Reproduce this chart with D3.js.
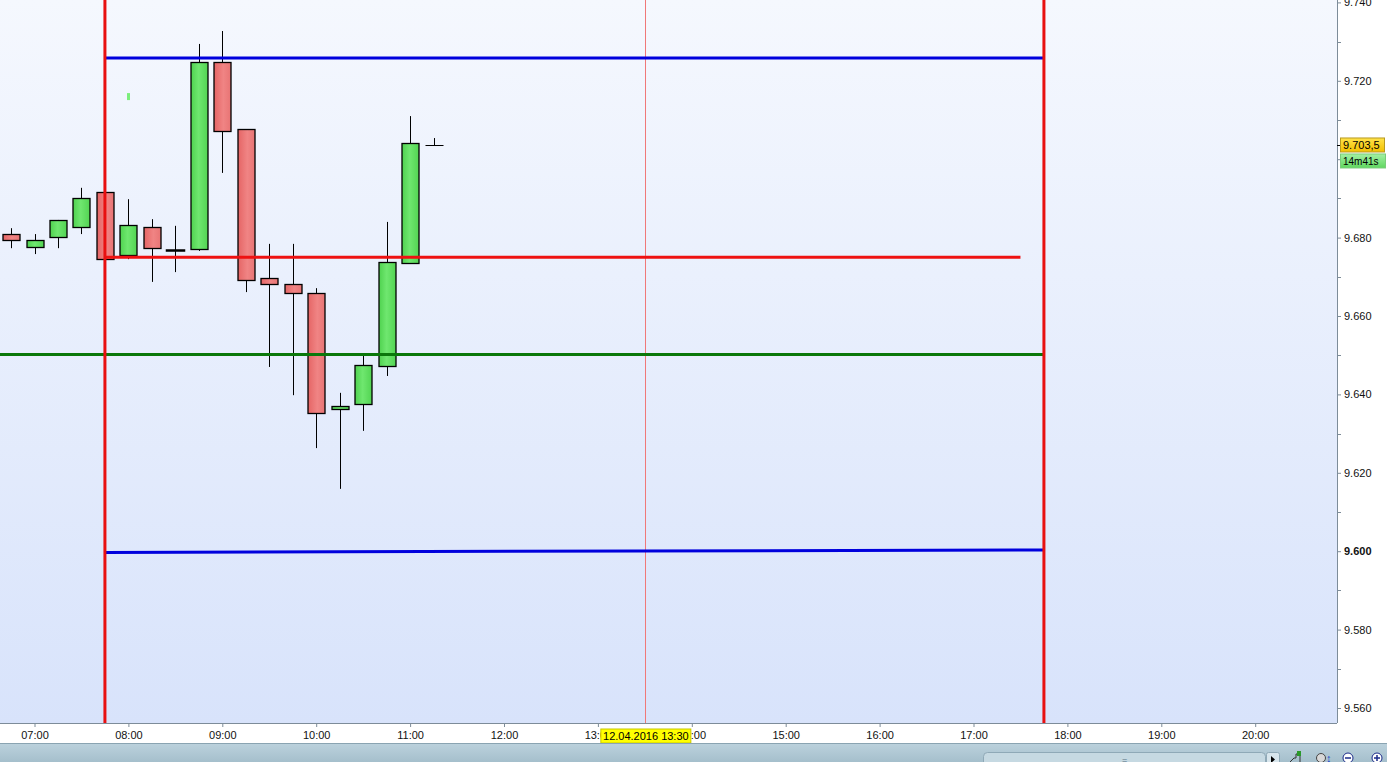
<!DOCTYPE html>
<html>
<head>
<meta charset="utf-8">
<title>Candles 12.04.2016</title>
<script src="https://d3js.org/d3.v7.min.js"></script>
<style>
  body { margin: 0; background: #fff; overflow: hidden; }
  svg { display: block; font-family: "Liberation Sans", Arial, sans-serif; }
  .axis text { font-size: 11px; fill: #111; }
  .axis path, .axis line { stroke: #7d8c99; }
</style>
</head>
<body>
<svg width="1387" height="762"></svg>
<script>
// 15 minute candles, 12.04.2016
var times  = ["06:45","07:00","07:15","07:30","07:45","08:00","08:15","08:30","08:45","09:00","09:15","09:30","09:45","10:00","10:15","10:30","10:45","11:00","11:15"];
var opens  = [9.6809,9.6776,9.6802,9.6827,9.6916,9.6756,9.6827,9.6768,9.6771,9.7248,9.7077,9.6697,9.6682,9.6659,9.6363,9.6376,9.6472,9.6735,9.7035];
var highs  = [9.6824,9.6809,9.6845,9.6927,9.6916,9.6898,9.6847,9.6830,9.7294,9.7327,9.7077,9.6784,9.6784,9.6671,9.6404,9.6501,9.6840,9.7110,9.7054];
var lows   = [9.6773,9.6758,9.6773,9.6809,9.6745,9.6745,9.6687,9.6712,9.6766,9.6965,9.6661,9.6470,9.6398,9.6263,9.6159,9.6307,9.6447,9.6735,9.7035];
var closes = [9.6794,9.6794,9.6845,9.6901,9.6745,9.6832,9.6773,9.6768,9.7248,9.7072,9.6692,9.6682,9.6659,9.6353,9.6370,9.6475,9.6738,9.7041,9.7035];

// drawn levels
var levelNames  = ["upper","pivot","support","lower"];
var levelStart  = ["07:45","07:45","06:00","07:45"];
var levelEnd    = ["17:45","17:30","17:45","17:45"];
var levelFrom   = [9.7258,9.6750,9.6502,9.5997];
var levelTo     = [9.7258,9.6750,9.6502,9.6003];
var sessionTimes = ["07:45","17:45"];
var crossTime = "13:30";
var crossLabel = "12.04.2016 13:30";
var markTime = "08:00", markValue = 9.7161;
var lastPrice = 9.7035, lastPriceLabel = "9.703,5", timerLabel = "14m41s";

var yMajor = [9.560,9.580,9.600,9.620,9.640,9.660,9.680,9.700,9.720,9.740];
var yMinor = [9.570,9.590,9.610,9.630,9.650,9.670,9.690,9.710,9.730];

var W = 1387, H = 762;
var plotW = 1337, plotH = 723;
var svg = d3.select("svg");
var parse = d3.timeParse("%d.%m.%Y %H:%M");
function T(s) { return parse("12.04.2016 " + s); }

var x = d3.scaleTime().domain([T("06:00"), T("21:00")]).range([-59.4, 1349.1]);
var y = d3.scaleLinear().domain([9.560, 9.740]).range([708, 2.4]);

var defs = svg.append("defs");
var bg = defs.append("linearGradient").attr("id","bg").attr("x1",0).attr("y1",0).attr("x2",0).attr("y2",1);
bg.append("stop").attr("offset","0%").attr("stop-color","#f5f8fe");
bg.append("stop").attr("offset","100%").attr("stop-color","#d8e3fb");
var gUp = defs.append("linearGradient").attr("id","up");
gUp.append("stop").attr("offset","0%").attr("stop-color","#4fd24f");
gUp.append("stop").attr("offset","45%").attr("stop-color","#6fe76f");
gUp.append("stop").attr("offset","100%").attr("stop-color","#52d452");
var gDn = defs.append("linearGradient").attr("id","dn");
gDn.append("stop").attr("offset","0%").attr("stop-color","#e56565");
gDn.append("stop").attr("offset","55%").attr("stop-color","#f08484");
gDn.append("stop").attr("offset","100%").attr("stop-color","#e87474");
var gBar = defs.append("linearGradient").attr("id","bar").attr("x1",0).attr("y1",0).attr("x2",0).attr("y2",1);
gBar.append("stop").attr("offset","0%").attr("stop-color","#bcd2dd");
gBar.append("stop").attr("offset","100%").attr("stop-color","#a5bfcc");
var gYel = defs.append("linearGradient").attr("id","yel").attr("x1",0).attr("y1",0).attr("x2",0).attr("y2",1);
gYel.append("stop").attr("offset","0%").attr("stop-color","#ffe34a");
gYel.append("stop").attr("offset","100%").attr("stop-color","#f3c000");
var gGrn = defs.append("linearGradient").attr("id","grn").attr("x1",0).attr("y1",0).attr("x2",0).attr("y2",1);
gGrn.append("stop").attr("offset","0%").attr("stop-color","#a4f0a4");
gGrn.append("stop").attr("offset","100%").attr("stop-color","#5fd75f");
defs.append("clipPath").attr("id","clip").append("rect").attr("width",plotW).attr("height",plotH);

svg.append("rect").attr("width",W).attr("height",H).attr("fill","#fff");
svg.append("rect").attr("width",plotW).attr("height",plotH).attr("fill","url(#bg)");

var plot = svg.append("g").attr("clip-path","url(#clip)");

// crosshair
var crossX = Math.round(x(T(crossTime)));
plot.append("rect")
  .attr("x", crossX).attr("y", 0).attr("width", 1).attr("height", plotH)
  .attr("fill", "#f07878");

// candles
var candles = times.map(function(t, i) {
  return {t: T(t), o: opens[i], h: highs[i], l: lows[i], c: closes[i]};
});
var bodyW = 17;
var cg = plot.selectAll("g.candle").data(candles).enter().append("g").attr("class","candle");
cg.append("line")
  .attr("x1", function(d) { return Math.round(x(d.t)) + 0.5; })
  .attr("x2", function(d) { return Math.round(x(d.t)) + 0.5; })
  .attr("y1", function(d) { return y(d.h); })
  .attr("y2", function(d) { return y(d.l); })
  .attr("stroke", "#000").attr("stroke-width", 1);
cg.append("rect")
  .attr("x", function(d) { return Math.round(x(d.t)) - bodyW / 2 + 0.5; })
  .attr("y", function(d) { return Math.round(y(Math.max(d.o, d.c))) + 0.5; })
  .attr("width", bodyW)
  .attr("height", function(d) { return Math.max(0, Math.round(Math.abs(y(d.o) - y(d.c)))); })
  .attr("fill", function(d) { return d.c > d.o ? "url(#up)" : "url(#dn)"; })
  .attr("stroke", "#000").attr("stroke-width", function(d) { return d.o === d.c ? 1 : 1.3; });
// doji stroke
cg.filter(function(d) { return d.o === d.c; }).select("rect")
  .attr("height", 0.01).attr("stroke-width", function(d, i) { return d.t.getHours() === 8 ? 2.5 : 1; });

// small marker
plot.append("rect")
  .attr("x", Math.round(x(T(markTime))) - 1).attr("y", y(markValue) - 3)
  .attr("width", 3).attr("height", 7).attr("fill", "#7cee7c");

// levels
var levelColor = {upper: "#0000dd", pivot: "#ee1111", support: "#0a780a", lower: "#0000dd"};
plot.selectAll("line.level").data(levelNames).enter().append("line")
  .attr("class", "level")
  .attr("x1", function(d, i) { return x(T(levelStart[i])); })
  .attr("x2", function(d, i) { return x(T(levelEnd[i])); })
  .attr("y1", function(d, i) { return y(levelFrom[i]); })
  .attr("y2", function(d, i) { return y(levelTo[i]); })
  .attr("stroke", function(d) { return levelColor[d]; })
  .attr("stroke-width", 3);

plot.selectAll("line.session").data(sessionTimes).enter().append("line")
  .attr("class", "session")
  .attr("x1", function(d) { return x(T(d)); })
  .attr("x2", function(d) { return x(T(d)); })
  .attr("y1", 0).attr("y2", plotH)
  .attr("stroke", "#e81010").attr("stroke-width", 3);

// right axis
var yAxis = svg.append("g").attr("class","axis").attr("transform","translate(" + plotW + ",0)")
  .call(d3.axisRight(y).tickValues(yMajor).tickSize(4).tickPadding(3).tickFormat(d3.format(".3f")));
yAxis.select(".domain").attr("d", "M0.5,0V" + plotH);
yAxis.selectAll(".tick text").style("font-weight", function(d) { return d === 9.600 ? "bold" : "normal"; });
yAxis.selectAll("line.minor").data(yMinor).enter().append("line").attr("class","minor")
  .attr("x1", 0).attr("x2", 4)
  .attr("y1", function(d) { return Math.round(y(d)) + 0.5; })
  .attr("y2", function(d) { return Math.round(y(d)) + 0.5; })
  .attr("stroke", "#7d8c99");

// bottom axis
var xAxis = svg.append("g").attr("class","axis").attr("transform","translate(0," + plotH + ")")
  .call(d3.axisBottom(x).ticks(d3.timeHour.every(1)).tickSize(4).tickPadding(4).tickFormat(d3.timeFormat("%H:%M")));
xAxis.select(".domain").attr("d", "M0," + 0.5 + "H" + plotW);
xAxis.selectAll(".tick").filter(function(d) { return d < T("06:30") || d > T("20:30"); }).remove();

// crosshair time label
var cx = x(T(crossTime));
svg.append("rect").attr("x", cx - 44).attr("y", plotH + 6).attr("width", 90).attr("height", 14)
  .attr("fill", "#ffff00").attr("stroke", "#c8c800");
svg.append("text").attr("x", cx + 1).attr("y", plotH + 17).attr("text-anchor","middle")
  .style("font-size","11px").attr("fill","#000").text(crossLabel);

// last price + timer
var py = y(lastPrice);
svg.append("line").attr("x1", plotW).attr("x2", plotW + 4).attr("y1", Math.round(py) + 0.5).attr("y2", Math.round(py) + 0.5).attr("stroke","#000");
svg.append("rect").attr("x", plotW + 3.5).attr("y", py - 7.5).attr("width", 44).attr("height", 14)
  .attr("fill", "url(#yel)").attr("stroke", "#b89a20");
svg.append("text").attr("x", plotW + 6).attr("y", py + 4).style("font-size","11px").attr("fill","#000").text(lastPriceLabel);
svg.append("rect").attr("x", plotW + 3.5).attr("y", py + 8.5).attr("width", 45).attr("height", 14)
  .attr("fill", "url(#grn)").attr("stroke", "#7acb7a");
svg.append("text").attr("x", plotW + 6).attr("y", py + 20).style("font-size","10px").attr("fill","#000").text(timerLabel);

// bottom toolbar
svg.append("rect").attr("x", 0).attr("y", 743).attr("width", W).attr("height", 19).attr("fill", "url(#bar)");
svg.append("line").attr("x1", 0).attr("x2", W).attr("y1", 743.5).attr("y2", 743.5).attr("stroke", "#8aa4b2");
svg.append("rect").attr("x", 983.5).attr("y", 752.5).attr("width", 282).attr("height", 14).attr("rx", 4)
  .attr("fill", "#c6d9e2").attr("stroke", "#8fa9b7");
svg.append("text").attr("x", 1122).attr("y", 763).style("font-size","9px").attr("fill","#55707f").text("=");
svg.append("rect").attr("x", 1266.5).attr("y", 752.5).attr("width", 13).attr("height", 14).attr("rx", 2)
  .attr("fill", "#d7e5ec").attr("stroke", "#8fa9b7");
svg.append("path").attr("d", "M1271,756 L1275,759.5 L1271,763 Z").attr("fill", "#000");
svg.append("path").attr("d", "M1290,762 L1294,758 L1296,758 L1296,754 L1300,754 L1300,762").attr("fill","none").attr("stroke","#333");
svg.append("rect").attr("x", 1297).attr("y", 751).attr("width", 4).attr("height", 5).attr("fill", "#2a9a2a");
svg.append("circle").attr("cx", 1321).attr("cy", 758).attr("r", 4.5).attr("fill", "#d8d8d8").attr("stroke", "#444");
svg.append("text").attr("x", 1326).attr("y", 762).style("font-size","11px").style("font-weight","bold").attr("fill","#1a46c8").text("↕");
svg.append("circle").attr("cx", 1348).attr("cy", 758).attr("r", 5).attr("fill", "#fff").attr("stroke", "#1a2a88");
svg.append("line").attr("x1", 1345).attr("x2", 1351).attr("y1", 758).attr("y2", 758).attr("stroke", "#1a2a88").attr("stroke-width", 1.5);
svg.append("circle").attr("cx", 1377).attr("cy", 758).attr("r", 5).attr("fill", "#fff").attr("stroke", "#1a2a88");
svg.append("line").attr("x1", 1374).attr("x2", 1380).attr("y1", 758).attr("y2", 758).attr("stroke", "#1a2a88").attr("stroke-width", 1.5);
svg.append("line").attr("x1", 1377).attr("x2", 1377).attr("y1", 755).attr("y2", 761).attr("stroke", "#1a2a88").attr("stroke-width", 1.5);
</script>
</body>
</html>
